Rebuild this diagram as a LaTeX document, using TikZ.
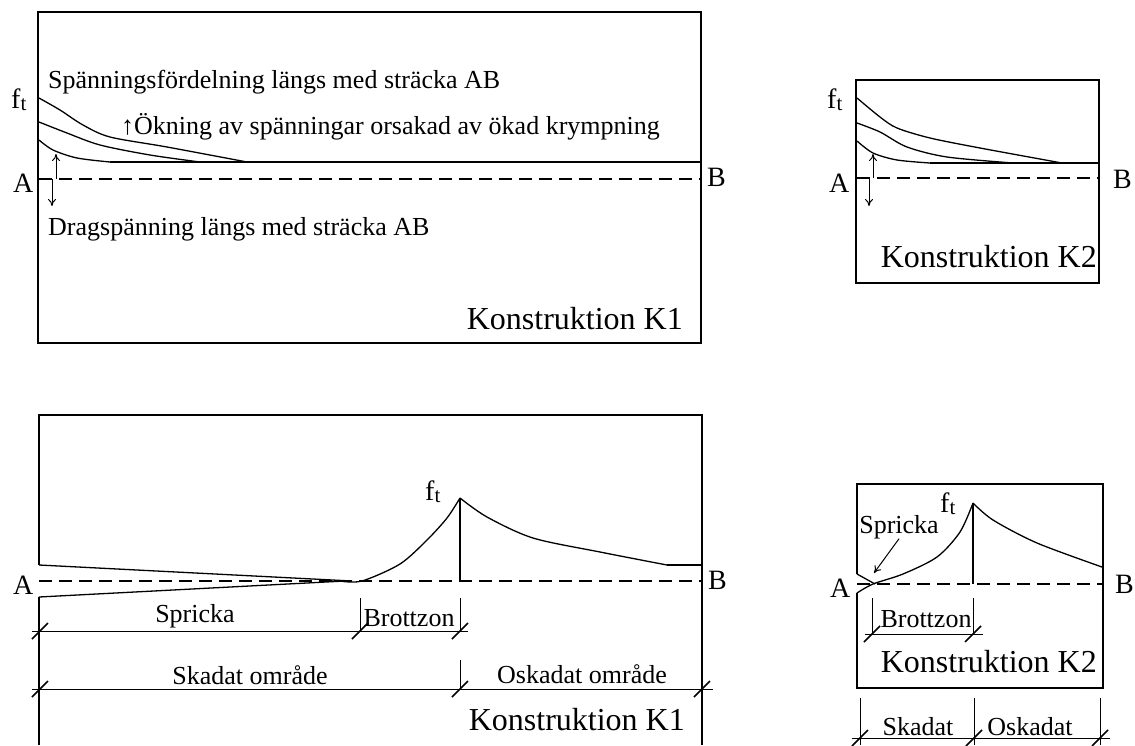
\documentclass[tikz,border=0pt]{standalone}
\usepackage{fontspec}
\setmainfont{Liberation Serif}
\usetikzlibrary{arrows.meta}

\newcommand{\ftlabel}{f\raisebox{-2.5pt}{\fontsize{21}{22}\selectfont t}}

\begin{document}
\begin{tikzpicture}[
  x=1pt, y=-1pt,
  frame/.style={line width=2.2pt},
  curve/.style={line width=1.3pt},
  axisline/.style={line width=1.2pt, dash pattern=on 13pt off 7pt},
  dimline/.style={line width=1pt},
  dimtick/.style={line width=1.6pt},
  arrow/.style={-{To[length=7pt,width=8pt]}, line width=1pt},
  lbl/.style={font=\fontsize{26}{30}\selectfont, inner sep=0pt},
  title/.style={font=\fontsize{32}{36}\selectfont, inner sep=0pt, anchor=base east},
  endpt/.style={font=\fontsize{28}{32}\selectfont, inner sep=0pt, anchor=base west}
]
\useasboundingbox (0,0) rectangle (1135,745);

% --- K1, stress before cracking
\draw[frame] (38,12) rectangle (701,343);
\draw[axisline] (39,179) -- (701,179);
\draw[curve] plot[smooth] coordinates {(39,98) (60,110) (83,125) (110,137) (167,147) (247,162)};
\draw[curve] plot[smooth] coordinates {(39,122) (67,133) (100,145) (150,155) (200,162)};
\draw[curve] plot[smooth] coordinates {(39,140) (53,150) (77,158) (110,162)};
\draw[curve] (110,162) -- (701,162);
\draw[arrow] (56,179) -- (56,154);
\draw[arrow] (52,179) -- (52,206);
\node[endpt] (ftA) at (11,108) {\ftlabel};
\node[endpt] (pA) at (13,192) {A};
\node[endpt] (pB) at (707,186) {B};
\node[lbl, anchor=base west] (distlbl) at (48,88) {Spänningsfördelning längs med sträcka AB};
\node[lbl, anchor=base west] (riselbl) at (121,134) {↑Ökning av spänningar orsakad av ökad krympning};
\node[lbl, anchor=base west] (tenslbl) at (48,235) {Dragspänning längs med sträcka AB};
\node[title] (konA) at (683,329) {Konstruktion K1};

% --- K2, stress before cracking
\draw[frame] (856,80) rectangle (1099,283);
\draw[axisline] (857,178) -- (1099,178);
\draw[curve] plot[smooth] coordinates {(857,98) (880,117) (897,128) (930,138) (980,148) (1062,163)};
\draw[curve] plot[smooth] coordinates {(857,123) (880,132) (907,147) (947,157) (1013,163)};
\draw[curve] plot[smooth] coordinates {(857,141) (873,153) (897,160) (930,163)};
\draw[curve] (930,163) -- (1099,163);
\draw[arrow] (873,178) -- (873,154);
\draw[arrow] (869,178) -- (869,206);
\node[endpt] (ftB) at (827,108) {\ftlabel};
\node[endpt] (qA) at (829,192) {A};
\node[endpt] (qB) at (1113,188) {B};
\node[title] (konB) at (1097,267) {Konstruktion K2};

% --- K1, after cracking
\draw[frame] (39,565) -- (39,415) -- (702,415) -- (702,745);
\draw[frame] (39,597) -- (39,745);
\draw[axisline] (39,581) -- (702,581);
\draw[curve] (39,565) -- (352,581);
\draw[curve] (39,597) -- (345,581);
\draw[curve] plot[smooth] coordinates {(340,581) (362,581) (400,564) (427,540) (447,518) (460,498)};
\draw[curve] (460,498) -- (460,581);
\draw[curve] plot[smooth] coordinates {(460,498) (487,517) (533,538) (600,552) (667,565)};
\draw[curve] (667,565) -- (702,565);
\node[endpt] (ftC) at (425,500) {\ftlabel};
\node[endpt] (rA) at (13,594) {A};
\node[endpt] (rB) at (708,589) {B};
% dimensions
\draw[dimline] (32,631) -- (468,631);
\draw[dimline] (360,598) -- (360,631);
\draw[dimline] (460,598) -- (460,631);
\foreach \x in {40,360,460}
  \draw[dimtick] (\x-8,639) -- (\x+8,623);
\draw[dimline] (32,689) -- (713,689);
\draw[dimline] (460,660) -- (460,689);
\foreach \x in {40,460,702}
  \draw[dimtick] (\x-8,697) -- (\x+8,681);
\node[lbl, anchor=base] (crackC) at (195,622) {Spricka};
\node[lbl, anchor=base] (zoneC) at (409,626) {Brottzon};
\node[lbl, anchor=base] (damC) at (250,684) {Skadat område};
\node[lbl, anchor=base] (undC) at (582,683) {Oskadat område};
\node[title] (konC) at (685,730) {Konstruktion K1};

% --- K2, after cracking
\draw[frame] (857,574) -- (857,484) -- (1103,484) -- (1103,688) -- (857,688) -- (857,593);
\draw[axisline] (857,584) -- (1103,584);
\draw[curve] (857,574) -- (875,584);
\draw[curve] plot[smooth] coordinates {(857,593) (873,584) (903,574) (937,557) (960,532) (973,503)};
\draw[curve] (973,503) -- (973,584);
\draw[curve] plot[smooth] coordinates {(973,503) (993,520) (1037,543) (1102,567)};
\coordinate (tipD) at (874,573);
\node[endpt] (ftD) at (940,512) {\ftlabel};
\node[endpt] (sA) at (830,597) {A};
\node[endpt] (sB) at (1115,593) {B};
\node[lbl, anchor=base] (crackD) at (899,533) {Spricka};
\draw[arrow] (crackD.south) -- (tipD);
% dimensions
\draw[dimline] (865,634) -- (983,634);
\draw[dimline] (872,598) -- (872,634);
\draw[dimline] (973,598) -- (973,634);
\foreach \x in {872,973}
  \draw[dimtick] (\x-8,642) -- (\x+8,626);
\node[lbl, anchor=base] (zoneD) at (926,627) {Brottzon};
\node[title] (konD) at (1097,672) {Konstruktion K2};
\draw[dimline] (852,738) -- (1110,738);
\foreach \x in {860,974,1100}{
  \draw[dimline] (\x,698) -- (\x,745);
  \draw[dimtick] (\x-8,746) -- (\x+8,730);
}
\node[lbl, anchor=base] (damD) at (918,735) {Skadat};
\node[lbl, anchor=base] (undD) at (1030,735) {Oskadat};
\end{tikzpicture}
\end{document}
